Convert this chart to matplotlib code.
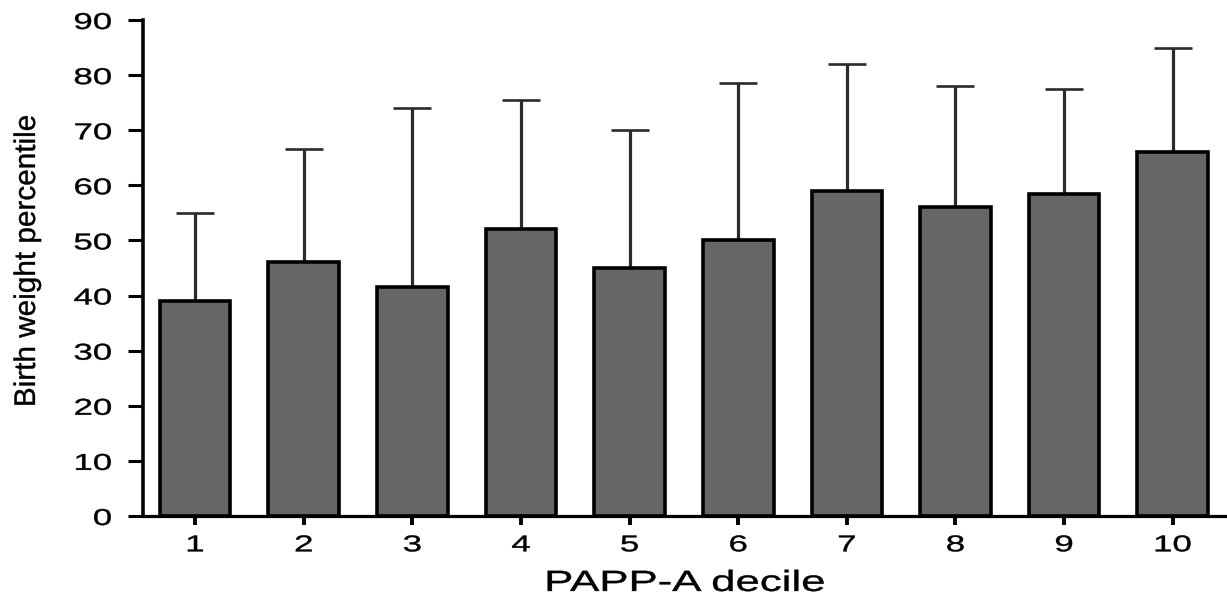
import matplotlib
matplotlib.use("Agg")
import matplotlib.pyplot as plt
import numpy as np
from matplotlib import patheffects
from matplotlib.transforms import Affine2D

# PAPP-A decile vs birth weight percentile (mean with upper SD)
deciles = [1, 2, 3, 4, 5, 6, 7, 8, 9, 10]
mean_pct = [39, 46, 41.5, 52, 45, 50, 59, 56, 58.5, 66]
upper_pct = [55, 66.5, 74, 75.5, 70, 78.5, 82, 78, 77.5, 85]
y_ticks = [0, 10, 20, 30, 40, 50, 60, 70, 80, 90]


class Widen(patheffects.AbstractPathEffect):
    """Draw text glyphs wider than the font, keeping an edge or the middle fixed,
    with an optional thin outline to give the strokes a bit more weight."""

    def __init__(self, factor, anchor='center', stroke=0.0):
        super().__init__()
        self.factor = factor
        self.anchor = anchor
        self.stroke = stroke

    def draw_path(self, renderer, gc, tpath, affine, rgbFace=None):
        bb = tpath.get_extents(affine)
        x0 = bb.x1 if self.anchor == 'right' else 0.5 * (bb.x0 + bb.x1)
        affine = affine + Affine2D().translate(-x0, 0).scale(self.factor, 1).translate(x0, 0)
        gc0 = renderer.new_gc()
        gc0.copy_properties(gc)
        if self.stroke > 0 and rgbFace is not None:
            gc0.set_foreground(rgbFace)
            gc0.set_linewidth(self.stroke)
            gc0.set_joinstyle('round')
        renderer.draw_path(gc0, tpath, affine, rgbFace)
        gc0.restore()


plt.rcParams['font.family'] = ['Liberation Sans', 'DejaVu Sans']

fig = plt.figure(figsize=(12.27, 6.02), dpi=100)
ax = fig.add_axes([0.1165, 0.1429, 0.8835, 0.8239])

x = np.array(deciles)
mean = np.array(mean_pct)
err = np.array(upper_pct) - mean

ax.errorbar(x, mean, yerr=[np.zeros_like(err), err], fmt='none',
            ecolor='#2b2b2b', elinewidth=2.3, capsize=14, capthick=1.9, zorder=1)
ax.bar(x, mean, width=0.65, color='#666666', edgecolor='black',
       linewidth=2.6, zorder=2)

ax.set_xlim(0.52, 10.5)
ax.set_ylim(0, 90)
ax.set_xticks(deciles)
ax.set_xticklabels([str(d) for d in deciles])
ax.set_yticks(y_ticks)

for side in ('top', 'right'):
    ax.spines[side].set_visible(False)
ax.spines['left'].set_linewidth(2.6)
ax.spines['bottom'].set_linewidth(2.3)

ax.tick_params(axis='y', length=11, width=2.2, pad=11.5, labelsize=16.5, colors='black')
ax.tick_params(axis='x', length=6.5, width=2.8, pad=6, labelsize=16.5, colors='black')

for lbl in ax.get_yticklabels():
    lbl.set_path_effects([Widen(1.52, anchor='right', stroke=0.3)])
for lbl in ax.get_xticklabels():
    lbl.set_path_effects([Widen(1.52, stroke=0.3)])

ax.set_xlabel('PAPP-A decile', fontsize=21, va='center',
              path_effects=[Widen(1.5, stroke=0.3)])
ax.xaxis.set_label_coords(0.5, -0.135)
ax.set_ylabel('Birth weight percentile', fontsize=21.4, ha='center', va='center',
              path_effects=[Widen(1.0, stroke=0.3)])
ax.yaxis.set_label_coords(-0.107, 0.514)

fig.savefig('out.png', dpi=100)
